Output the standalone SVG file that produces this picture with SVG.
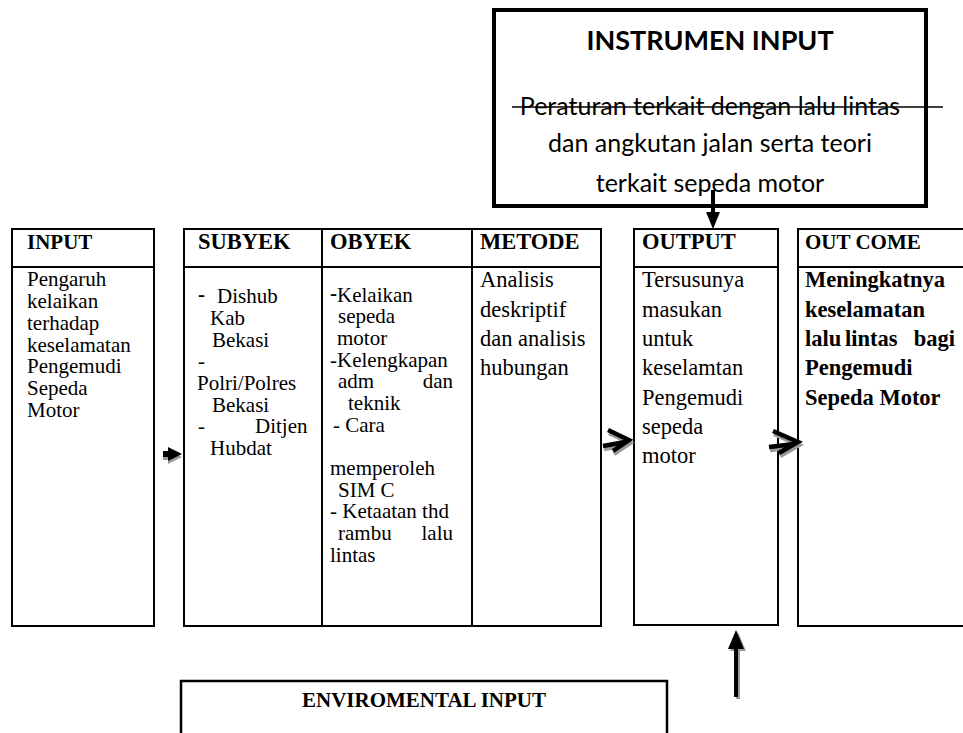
<svg xmlns="http://www.w3.org/2000/svg" width="963" height="733" viewBox="0 0 963 733">
<style>
.bx{fill:none;stroke:#000;stroke-width:2}
.hd{font-family:"Liberation Serif","Times New Roman",serif;font-weight:bold;font-size:21px;fill:#000}
.hl{font-family:"Liberation Serif","Times New Roman",serif;font-weight:bold;font-size:22.5px;fill:#000}
.tx{font-family:"Liberation Serif","Times New Roman",serif;font-size:21px;fill:#000}
.tl{font-family:"Liberation Serif","Times New Roman",serif;font-size:22.5px;fill:#000}
.tb{font-family:"Liberation Serif","Times New Roman",serif;font-size:22.5px;font-weight:bold;fill:#000}
.ca{font-family:Lato,"Open Sans",sans-serif;fill:#000;text-anchor:middle}
.ar{fill:none;stroke:#000;stroke-width:4.5}
.ars{fill:none;stroke:#9a9a9a;stroke-width:4.5}
</style>
<rect width="963" height="733" fill="#fff"/>

<g id="instrumen-input">
<rect x="494" y="10" width="432" height="196" fill="none" stroke="#000" stroke-width="4"/>
<text class="ca" x="710" y="50" font-size="27" font-weight="bold">INSTRUMEN INPUT</text>
<text class="ca" x="710" y="115" font-size="25">Peraturan terkait dengan lalu lintas</text>
<text class="ca" x="710" y="152" font-size="25">dan angkutan jalan serta teori</text>
<text class="ca" x="710" y="192" font-size="25">terkait sepeda motor</text>
<line x1="512" y1="107" x2="943" y2="107" stroke="#000" stroke-width="1.5"/>
</g>

<g id="input">
<rect class="bx" x="12" y="229" width="142" height="397"/>
<line class="bx" x1="12" y1="267" x2="154" y2="267"/>
<text class="hd" x="27" y="249">INPUT</text>
<text class="tx" x="27" y="286">Pengaruh</text>
<text class="tx" x="27" y="308">kelaikan</text>
<text class="tx" x="27" y="330">terhadap</text>
<text class="tx" x="27" y="352">keselamatan</text>
<text class="tx" x="27" y="373">Pengemudi</text>
<text class="tx" x="27" y="395">Sepeda</text>
<text class="tx" x="27" y="417">Motor</text>
</g>

<g id="subyek">
<rect class="bx" x="184" y="229" width="138" height="397"/>
<line class="bx" x1="184" y1="267" x2="322" y2="267"/>
<text class="hl" x="198" y="249">SUBYEK</text>
<text class="hd" x="198" y="301">-</text>
<text class="tx" x="217" y="303">Dishub</text>
<text class="tx" x="210" y="325">Kab</text>
<text class="tx" x="212" y="347">Bekasi</text>
<text class="tx" x="198" y="368">-</text>
<text class="tx" x="197" y="390">Polri/Polres</text>
<text class="tx" x="212" y="412">Bekasi</text>
<text class="tx" x="198" y="433">-</text>
<text class="tx" x="255" y="433">Ditjen</text>
<text class="tx" x="210" y="455">Hubdat</text>
</g>

<g id="obyek">
<rect class="bx" x="322" y="229" width="150" height="397"/>
<line class="bx" x1="322" y1="267" x2="472" y2="267"/>
<text class="hl" x="330" y="249">OBYEK</text>
<text class="hd" x="330" y="300">-</text>
<text class="tx" x="337" y="302">Kelaikan</text>
<text class="tx" x="338" y="323">sepeda</text>
<text class="tx" x="337" y="345">motor</text>
<text class="tx" x="330" y="367">-Kelengkapan</text>
<text class="tx" x="338" y="388">adm</text>
<text class="tx" x="453" y="388" text-anchor="end">dan</text>
<text class="tx" x="348" y="410">teknik</text>
<text class="tx" x="333" y="432">- Cara</text>
<text class="tx" x="330" y="475">memperoleh</text>
<text class="tx" x="338" y="497">SIM C</text>
<text class="tx" x="330" y="518">- Ketaatan thd</text>
<text class="tx" x="338" y="540">rambu</text>
<text class="tx" x="453" y="540" text-anchor="end">lalu</text>
<text class="tx" x="330" y="562">lintas</text>
</g>

<g id="metode">
<rect class="bx" x="472" y="229" width="129" height="397"/>
<line class="bx" x1="472" y1="267" x2="601" y2="267"/>
<text class="hl" x="480" y="249">METODE</text>
<text class="tl" x="480" y="287">Analisis</text>
<text class="tl" x="480" y="317">deskriptif</text>
<text class="tl" x="480" y="346">dan analisis</text>
<text class="tl" x="480" y="375">hubungan</text>
</g>

<g id="output">
<rect class="bx" x="634" y="229" width="144" height="396"/>
<line class="bx" x1="634" y1="267" x2="778" y2="267"/>
<text class="hl" x="642" y="249">OUTPUT</text>
<text class="tl" x="642" y="287">Tersusunya</text>
<text class="tl" x="642" y="317">masukan</text>
<text class="tl" x="642" y="346">untuk</text>
<text class="tl" x="642" y="375">keselamtan</text>
<text class="tl" x="642" y="405">Pengemudi</text>
<text class="tl" x="642" y="434">sepeda</text>
<text class="tl" x="642" y="463">motor</text>
</g>

<g id="outcome">
<rect class="bx" x="798" y="229" width="175" height="397"/>
<line class="bx" x1="798" y1="267" x2="973" y2="267"/>
<text class="hd" x="805" y="249">OUT COME</text>
<text class="tb" x="805" y="287">Meningkatnya</text>
<text class="tb" x="805" y="317">keselamatan</text>
<text class="tb" x="805" y="346">lalu</text>
<text class="tb" x="845" y="346">lintas</text>
<text class="tb" x="955" y="346" text-anchor="end">bagi</text>
<text class="tb" x="805" y="375">Pengemudi</text>
<text class="tb" x="805" y="405">Sepeda Motor</text>
</g>

<g id="enviromental-input">
<rect x="181" y="681" width="486" height="80" fill="none" stroke="#000" stroke-width="2.5"/>
<text class="hd" x="424" y="707" text-anchor="middle">ENVIROMENTAL INPUT</text>
</g>

<g id="connectors">
<line x1="713" y1="190" x2="713" y2="214" stroke="#000" stroke-width="4"/>
<polygon points="706,212 720,212 713,229" fill="#000"/>

<polygon transform="translate(0,3)" points="163,451 168,451 168,447 182,454 168,461 168,457 163,457" fill="#9a9a9a"/>
<polygon points="163,451 168,451 168,447 182,454 168,461 168,457 163,457" fill="#000"/>

<path class="ars" transform="translate(1,3)" d="M608,430 L629,440 L613,451 M603,446 L625,442"/>
<path class="ar" d="M608,430 L629,440 L613,451 M603,446 L625,442"/>

<path class="ars" transform="translate(1,3)" d="M773,431 L798,442 L779,453 M769,447 L794,444"/>
<path class="ar" d="M773,431 L798,442 L779,453 M769,447 L794,444"/>

<line x1="738" y1="650" x2="738" y2="699" stroke="#9a9a9a" stroke-width="4"/>
<polygon points="730,651 746,651 738,632" fill="#9a9a9a"/>
<line x1="736" y1="648" x2="736" y2="697" stroke="#000" stroke-width="4"/>
<polygon points="728,649 744,649 736,630" fill="#000"/>
</g>
</svg>
